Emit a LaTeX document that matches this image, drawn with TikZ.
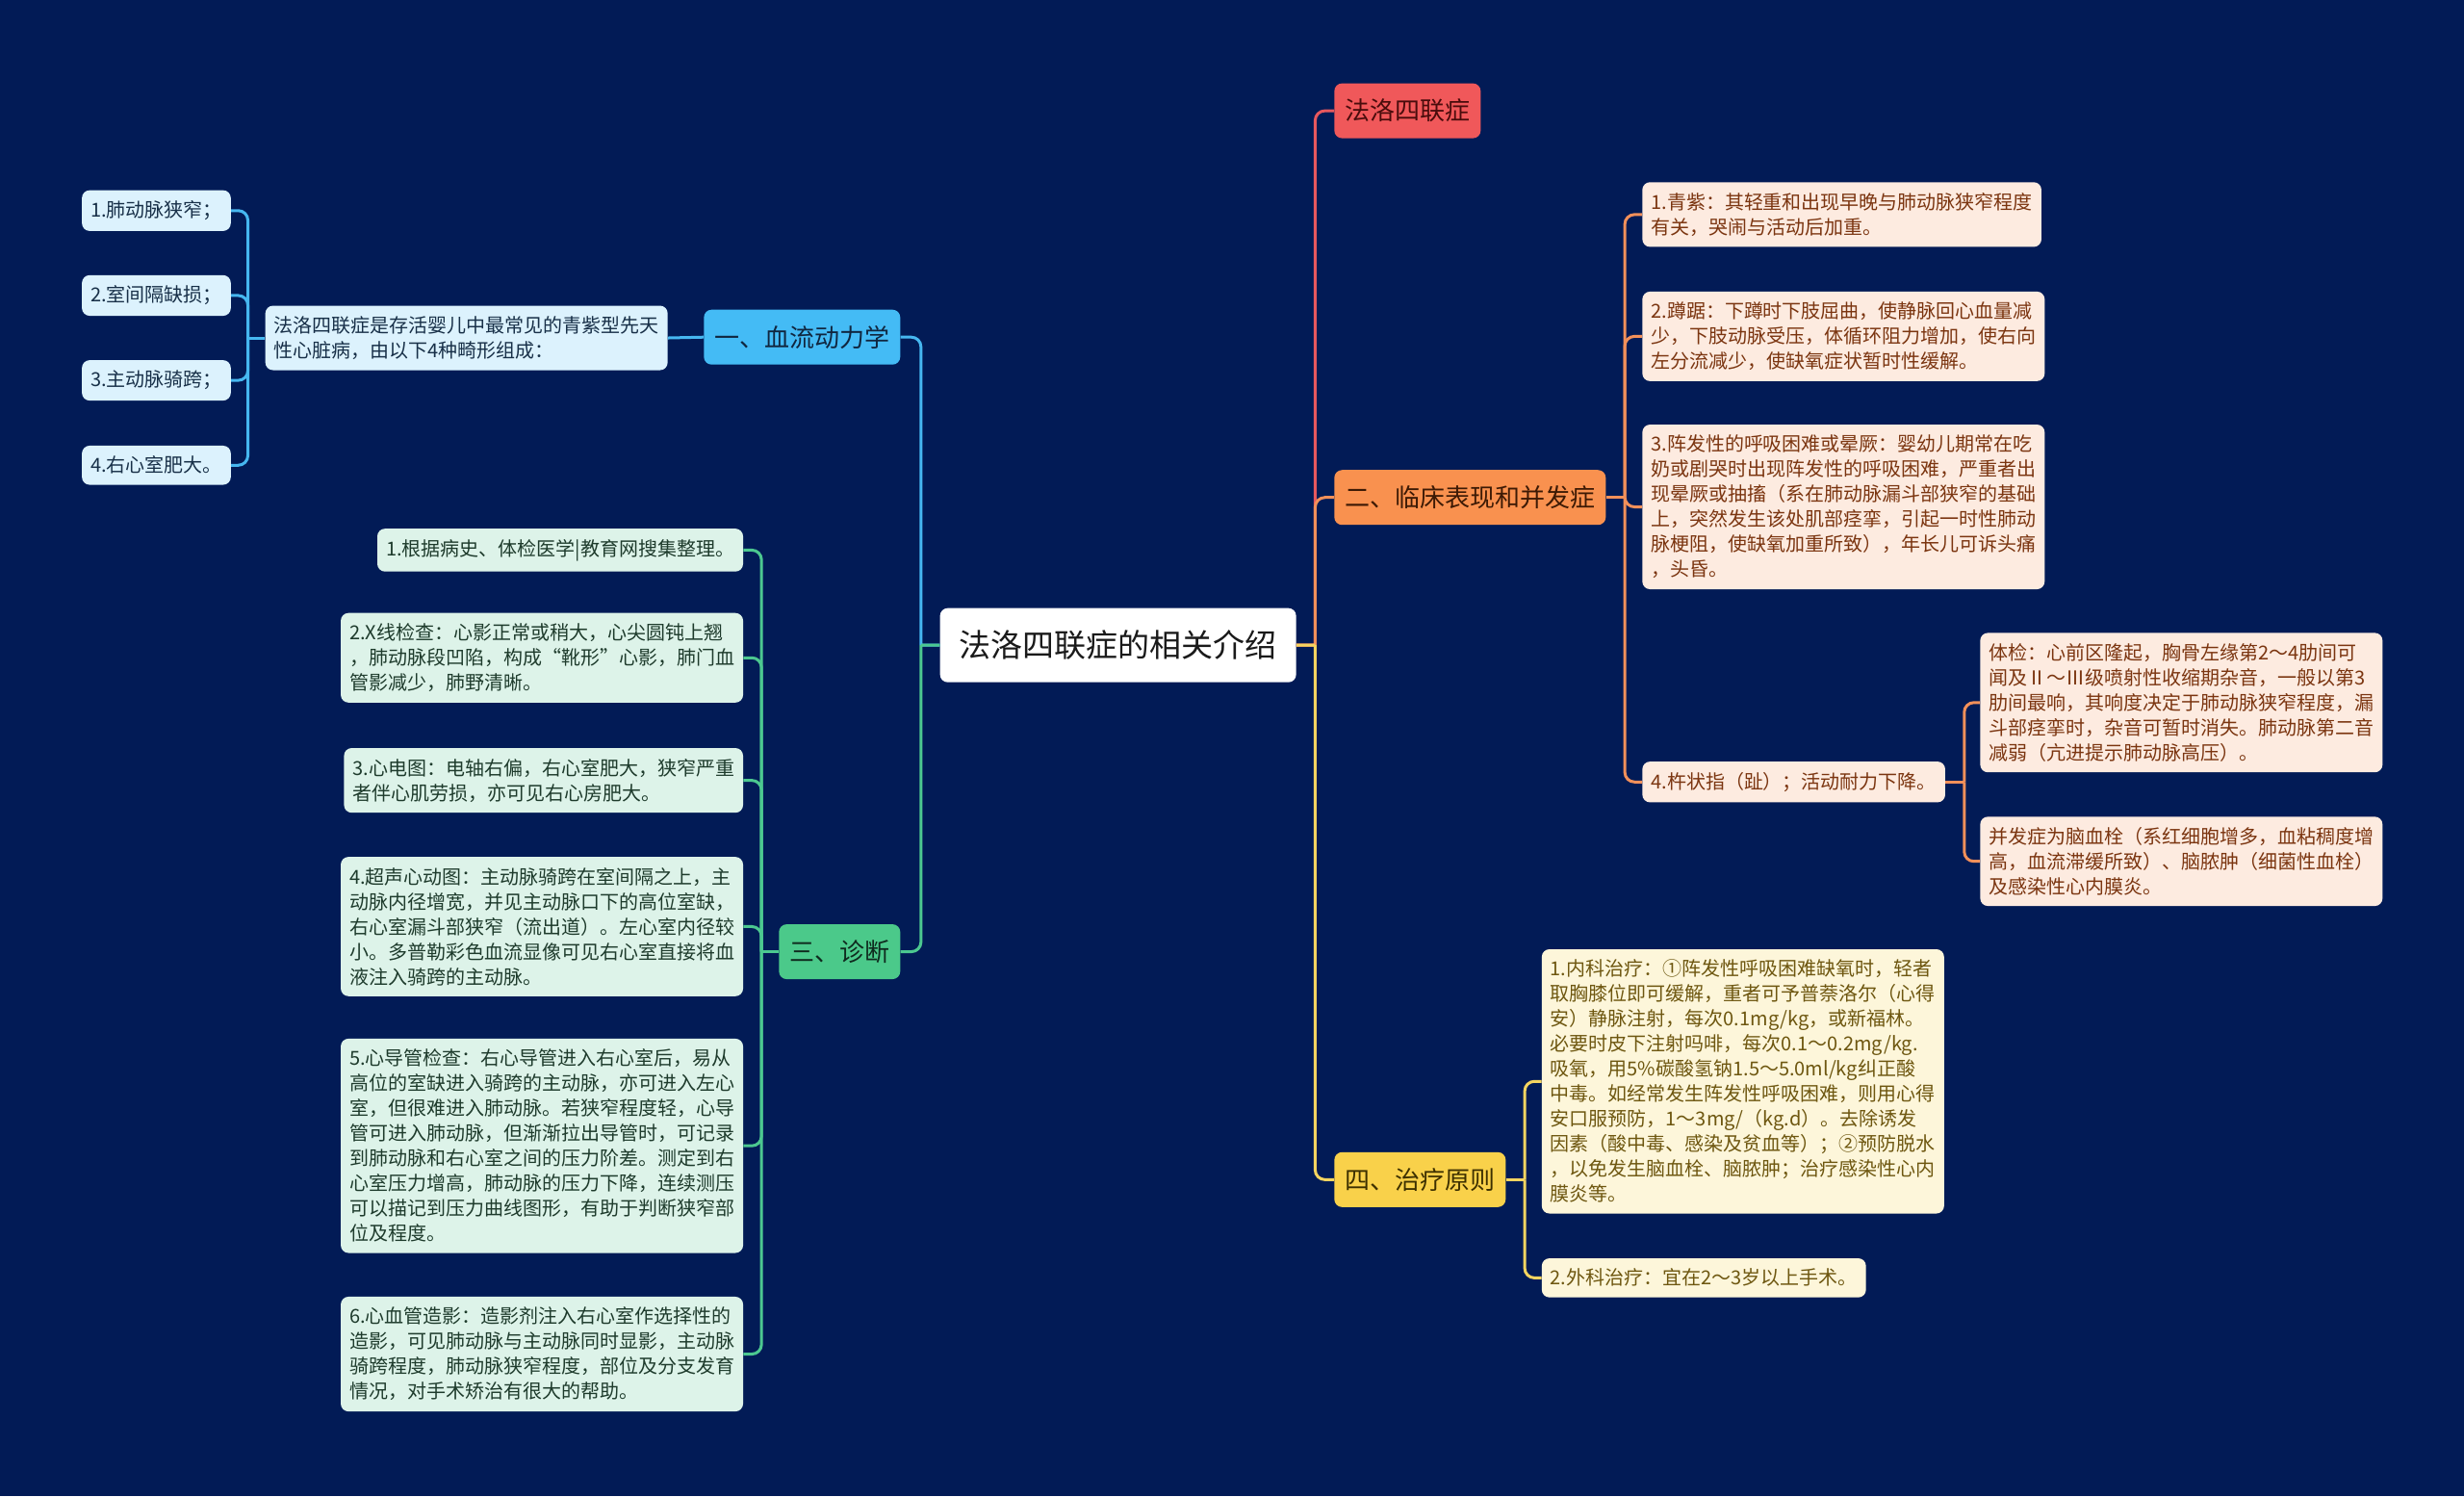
\documentclass[tikz,border=0pt]{standalone}
\usepackage{fontspec}
\setmainfont{Noto Sans CJK SC}
\usepackage{tikz}
\usetikzlibrary{positioning}

\definecolor{bgnavy}{HTML}{021B56}
\definecolor{rootink}{HTML}{1A1A1A}
\definecolor{yifill}{HTML}{44BBF5}
\definecolor{yiink}{HTML}{10263F}
\definecolor{yileaf}{HTML}{DCF2FD}
\definecolor{yitext}{HTML}{183048}
\definecolor{yiline}{HTML}{46B7F0}
\definecolor{sanfill}{HTML}{4BC98A}
\definecolor{sanink}{HTML}{0F2A1E}
\definecolor{sanleaf}{HTML}{DDF3E9}
\definecolor{santext}{HTML}{1E3B2C}
\definecolor{sanline}{HTML}{4CC890}
\definecolor{flfill}{HTML}{F0585A}
\definecolor{flink}{HTML}{4A0C0C}
\definecolor{flline}{HTML}{E8585E}
\definecolor{erfill}{HTML}{F9914F}
\definecolor{erink}{HTML}{3D1A05}
\definecolor{erleaf}{HTML}{FDEBE0}
\definecolor{ertext}{HTML}{7B3510}
\definecolor{erline}{HTML}{F2905A}
\definecolor{sifill}{HTML}{F9D14A}
\definecolor{siink}{HTML}{3D3000}
\definecolor{sileaf}{HTML}{FDF6DA}
\definecolor{sitext}{HTML}{6E5710}
\definecolor{siline}{HTML}{F5D560}

\begin{document}
\begin{tikzpicture}[x=1.6327pt, y=-1.6327pt,
	rootbox/.style={fill=white, text=rootink, rounded corners=8pt, minimum height=77pt, inner xsep=20pt, font=\fontsize{33pt}{40pt}\selectfont},
	topicbox/.style={rounded corners=8pt, minimum height=57pt, inner xsep=11pt, font=\fontsize{26pt}{31pt}\selectfont},
	leafbox/.style={rounded corners=8pt, align=left, inner xsep=9pt, inner ysep=11pt, font=\fontsize{20pt}{26pt}\selectfont},
	yibox/.style={topicbox, fill=yifill, text=yiink, anchor=east},
	sanbox/.style={topicbox, fill=sanfill, text=sanink, anchor=east},
	rightbox/.style={topicbox, anchor=west},
	yinote/.style={leafbox, fill=yileaf, text=yitext, anchor=east},
	sannote/.style={leafbox, fill=sanleaf, text=santext, anchor=east},
	ernote/.style={leafbox, fill=erleaf, text=ertext, anchor=west},
	sinote/.style={leafbox, fill=sileaf, text=sitext, anchor=west},
	link/.style={line width=3pt, rounded corners=10pt}]

	\fill[bgnavy] (0,0) rectangle (1568,952);
	\useasboundingbox (0,0) rectangle (1568,952);

	\node[rootbox] (ctr) at (711.5,410.5) {法洛四联症的相关介绍};

	% left side
	\node[yibox] (yi) at (573,214.5) {一、血流动力学};
	\node[sanbox] (san) at (573,605.5) {三、诊断};

	\node[yinote] (yidesc) at (425,215) {法洛四联症是存活婴儿中最常见的青紫型先天\\性心脏病，由以下4种畸形组成：};
	\node[yinote] (y1) at (147,134) {1.肺动脉狭窄；};
	\node[yinote] (y2) at (147,188) {2.室间隔缺损；};
	\node[yinote] (y3) at (147,242) {3.主动脉骑跨；};
	\node[yinote] (y4) at (147,296) {4.右心室肥大。};

	\node[sannote] (s1) at (473,350) {1.根据病史、体检医学|教育网搜集整理。};
	\node[sannote] (s2) at (473,418.5) {2.X线检查：心影正常或稍大，心尖圆钝上翘\\，肺动脉段凹陷，构成“靴形”心影，肺门血\\管影减少，肺野清晰。};
	\node[sannote] (s3) at (473,496.5) {3.心电图：电轴右偏，右心室肥大，狭窄严重\\者伴心肌劳损，亦可见右心房肥大。};
	\node[sannote] (s4) at (473,589.5) {4.超声心动图：主动脉骑跨在室间隔之上，主\\动脉内径增宽，并见主动脉口下的高位室缺，\\右心室漏斗部狭窄（流出道）。左心室内径较\\小。多普勒彩色血流显像可见右心室直接将血\\液注入骑跨的主动脉。};
	\node[sannote] (s5) at (473,729) {5.心导管检查：右心导管进入右心室后，易从\\高位的室缺进入骑跨的主动脉，亦可进入左心\\室，但很难进入肺动脉。若狭窄程度轻，心导\\管可进入肺动脉，但渐渐拉出导管时，可记录\\到肺动脉和右心室之间的压力阶差。测定到右\\心室压力增高，肺动脉的压力下降，连续测压\\可以描记到压力曲线图形，有助于判断狭窄部\\位及程度。};
	\node[sannote] (s6) at (473,861.5) {6.心血管造影：造影剂注入右心室作选择性的\\造影，可见肺动脉与主动脉同时显影，主动脉\\骑跨程度，肺动脉狭窄程度，部位及分支发育\\情况，对手术矫治有很大的帮助。};

	% right side
	\node[rightbox, fill=flfill, text=flink] (fl) at (849,70.5) {法洛四联症};
	\node[rightbox, fill=erfill, text=erink] (er) at (849,316.5) {二、临床表现和并发症};
	\node[rightbox, fill=sifill, text=siink] (si) at (849,750.5) {四、治疗原则};

	\node[ernote] (e1) at (1045,136.5) {1.青紫：其轻重和出现早晚与肺动脉狭窄程度\\有关，哭闹与活动后加重。};
	\node[ernote] (e2) at (1045,214) {2.蹲踞：下蹲时下肢屈曲，使静脉回心血量减\\少，下肢动脉受压，体循环阻力增加，使右向\\左分流减少，使缺氧症状暂时性缓解。};
	\node[ernote] (e3) at (1045,322.5) {3.阵发性的呼吸困难或晕厥：婴幼儿期常在吃\\奶或剧哭时出现阵发性的呼吸困难，严重者出\\现晕厥或抽搐（系在肺动脉漏斗部狭窄的基础\\上，突然发生该处肌部痉挛，引起一时性肺动\\脉梗阻，使缺氧加重所致），年长儿可诉头痛\\，头昏。};
	\node[ernote] (e4) at (1045,497.5) {4.杵状指（趾）；活动耐力下降。};
	\node[ernote] (e41) at (1260,447) {体检：心前区隆起，胸骨左缘第2～4肋间可\\闻及Ⅱ～Ⅲ级喷射性收缩期杂音，一般以第3\\肋间最响，其响度决定于肺动脉狭窄程度，漏\\斗部痉挛时，杂音可暂时消失。肺动脉第二音\\减弱（亢进提示肺动脉高压）。};
	\node[ernote] (e42) at (1260,548) {并发症为脑血栓（系红细胞增多，血粘稠度增\\高，血流滞缓所致）、脑脓肿（细菌性血栓）\\及感染性心内膜炎。};

	\node[sinote] (t1) at (981,688) {1.内科治疗：①阵发性呼吸困难缺氧时，轻者\\取胸膝位即可缓解，重者可予普萘洛尔（心得\\安）静脉注射，每次0.1mg/kg，或新福林。\\必要时皮下注射吗啡，每次0.1～0.2mg/kg.\\吸氧，用5\%碳酸氢钠1.5～5.0ml/kg纠正酸\\中毒。如经常发生阵发性呼吸困难，则用心得\\安口服预防，1～3mg/（kg.d）。去除诱发\\因素（酸中毒、感染及贫血等）；②预防脱水\\，以免发生脑血栓、脑脓肿；治疗感染性心内\\膜炎等。};
	\node[sinote] (t2) at (981,813) {2.外科治疗：宜在2～3岁以上手术。};

	% connectors
	\draw[link, yiline] (ctr.west) -- ++(-12,0) coordinate (jl) (jl) |- (yi.east);
	\draw[link, sanline] (ctr.west) -- (jl) (jl) |- (san.east);
	\draw[link, yiline] (yi.west) -- (yidesc.east);
	\draw[link, yiline] (yidesc.west) -- ++(-11,0) coordinate (jy);
	\foreach \k in {y1,y2,y3,y4}
		\draw[link, yiline] (jy) |- (\k.east);
	\draw[link, sanline] (san.west) -- ++(-11,0) coordinate (js);
	\foreach \k in {s1,s2,s3,s4,s5,s6}
		\draw[link, sanline] (js) |- (\k.east);

	\draw[link, flline] (ctr.east) -- ++(12,0) coordinate (jr) (jr) |- (fl.west);
	\draw[link, erline] (ctr.east) -- (jr) (jr) |- (er.west);
	\draw[link, siline] (ctr.east) -- (jr) (jr) |- (si.west);
	\draw[link, erline] (er.east) -- ++(12,0) coordinate (je);
	\foreach \k in {e1,e2,e3,e4}
		\draw[link, erline] (je) |- (\k.west);
	\draw[link, erline] (e4.east) -- ++(12,0) coordinate (jf);
	\foreach \k in {e41,e42}
		\draw[link, erline] (jf) |- (\k.west);
	\draw[link, siline] (si.east) -- ++(12,0) coordinate (jt);
	\foreach \k in {t1,t2}
		\draw[link, siline] (jt) |- (\k.west);
\end{tikzpicture}
\end{document}
